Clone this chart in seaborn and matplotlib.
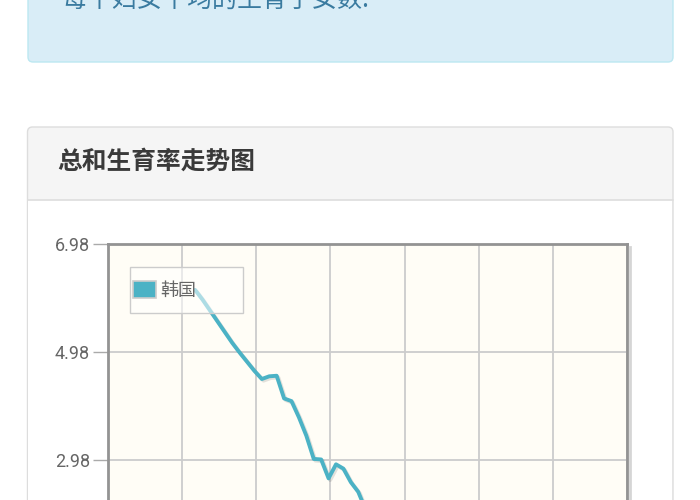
import numpy as np
import matplotlib
matplotlib.use('Agg')
import matplotlib.pyplot as plt
import matplotlib.patheffects as pe
from matplotlib.patches import FancyBboxPatch, Rectangle, Patch
import seaborn as sns

# Korea total fertility rate
years = list(range(1960, 1984))
tfr = [6.13, 5.95, 5.75, 5.55, 5.35, 5.15, 4.97, 4.80, 4.63, 4.48,
       4.53, 4.54, 4.12, 4.07, 3.77, 3.43, 3.00, 2.99, 2.64, 2.90,
       2.82, 2.57, 2.39, 2.06]
country = '韩国'
y_ticks = [6.98, 4.98, 2.98]
panel_title = '总和生育率走势图'
note_text = '每个妇女平均的生育子女数.'

sns.set_theme(style='white')
plt.rcParams['font.family'] = ['Noto Sans CJK SC', 'DejaVu Sans']

W, H = 700, 500
fig = plt.figure(figsize=(7, 5), dpi=100, facecolor='white')

# page background, drawn in pixel coordinates
page = fig.add_axes([0, 0, 1, 1], zorder=0)
page.set_xlim(0, W)
page.set_ylim(H, 0)
page.axis('off')

page.add_patch(FancyBboxPatch((28, -40), 645, 102, boxstyle='round,pad=0,rounding_size=5',
                              facecolor='#d9edf7', edgecolor='#bce8f1', lw=1))
page.text(62, 0, note_text, fontsize=18, color='#3a7ba0', va='center', ha='left')

page.add_patch(FancyBboxPatch((27.5, 127), 645.5, 500, boxstyle='round,pad=0,rounding_size=5',
                              facecolor='#f5f5f5', edgecolor='#dddddd', lw=1))
page.add_patch(Rectangle((28.3, 200), 644, 420, facecolor='white', edgecolor='none'))
page.plot([27.5, 673], [200, 200], color='#dddddd', lw=1.2)
page.text(57, 162, panel_title, fontsize=17.8, fontweight='bold', color='#3a3a3a',
          va='center', ha='left')

# chart area (extends below the visible crop)
ax = fig.add_axes([108 / W, (H - 568) / H, 519 / W, 324 / H], zorder=2)
ax.set_facecolor('#fffdf6')

sns.lineplot(x=years, y=tfr, ax=ax, color='#4bb2c5', lw=2.8, legend=False)
ax.lines[0].set_path_effects([pe.SimpleLineShadow(offset=(1.2, -1.2), shadow_color='k', alpha=0.12),
                              pe.Normal()])

xlim = (1948.25, 2018.25)
ax.set_xlim(*xlim)
ax.set_ylim(0.98, 6.98)
ax.set_xticks(np.linspace(xlim[0], xlim[1], 8))
ax.set_xticklabels([])
ax.set_yticks(y_ticks)
ax.set_yticklabels([f'{v:.2f}' for v in y_ticks], fontfamily='Roboto', fontsize=13, color='#666666')
ax.tick_params(axis='x', length=0)
ax.tick_params(axis='y', left=True, length=11, width=1, color='#aaaaaa', pad=2)
ax.grid(True, color='#cccccc', lw=1.3)
ax.set_axisbelow(True)
ax.set_xlabel('')
ax.set_ylabel('')
for name, s in ax.spines.items():
    s.set_visible(True)
    s.set_color('#939393')
    s.set_linewidth(2)
ax.spines['right'].set_path_effects([pe.SimpleLineShadow(offset=(2, -2), alpha=0.18), pe.Normal()])

# legend box (semi transparent, like the original)
ax.add_patch(Rectangle(((130 - 108) / 519, (568 - 313) / 324), 113 / 519, 46 / 324,
                       transform=ax.transAxes, facecolor=(1, 1, 1, 0.55), edgecolor='#cccccc',
                       lw=1, zorder=4, clip_on=False))
ax.legend(handles=[Patch(facecolor='#4bb2c5', edgecolor='#cccccc', lw=1.2, label=country)],
          loc='center left', bbox_to_anchor=((133 - 108) / 519, (568 - 290) / 324),
          frameon=False, borderpad=0, borderaxespad=0, handlelength=1.3, handleheight=1.1,
          handletextpad=0.2, prop={'size': 13}, labelcolor='#666666')

fig.savefig('out.png', dpi=100)
